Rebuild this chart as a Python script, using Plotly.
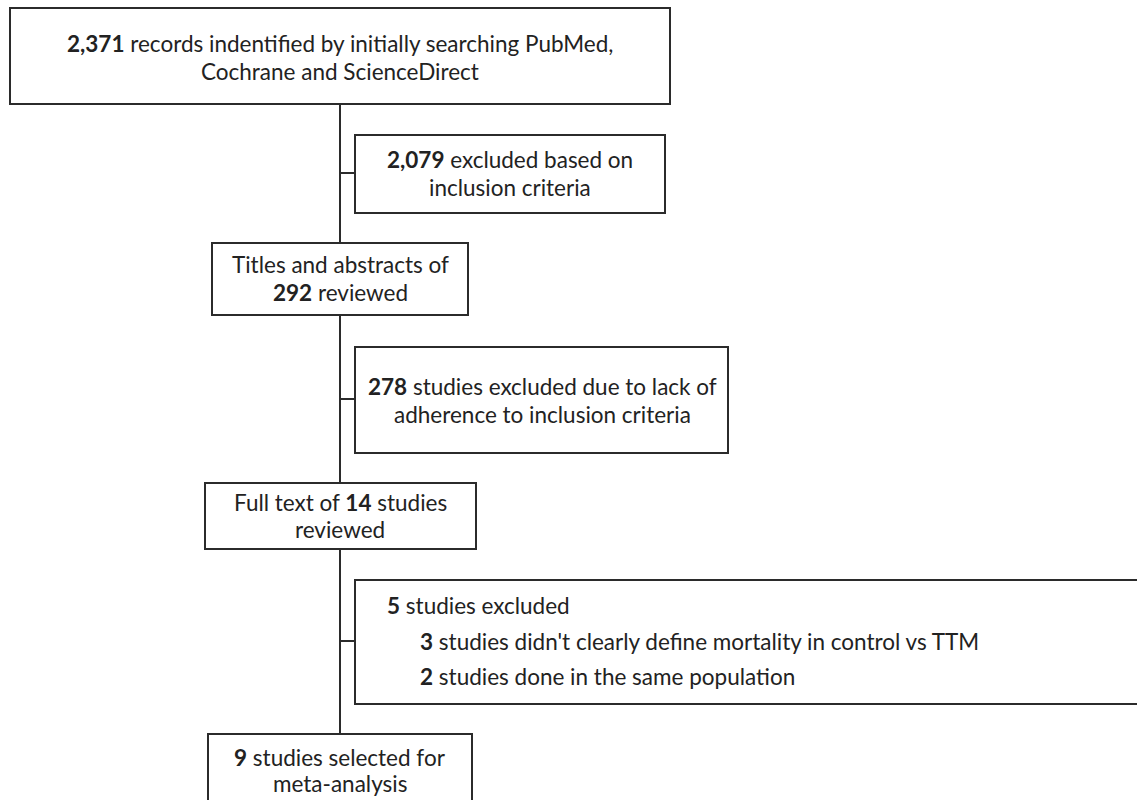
import plotly.graph_objects as go

# Flow counts
counts = {
    "identified": 2371,
    "excluded_criteria": 2079,
    "screened": 292,
    "excluded_adherence": 278,
    "full_text": 14,
    "excluded_full": 5,
    "excl_mortality": 3,
    "excl_population": 2,
    "selected": 9,
}

def b(n):
    return f"<b>{n:,}</b>"

# boxes: (x0, y0, x1, y1)
boxes = [
    (10, 8, 670, 104),
    (355, 135, 665, 213),
    (212, 243, 468, 315),
    (355, 347, 728, 453),
    (205, 483, 476, 549),
    (355, 580, 1150, 704),
    (208, 734, 472, 820),
]

# text lines: (x, y, text, anchor)
lines_text = [
    (340, 43, f"{b(counts['identified'])} records indentified by initially searching PubMed,", "center"),
    (340, 71, "Cochrane and ScienceDirect", "center"),
    (510, 159, f"{b(counts['excluded_criteria'])} excluded based on", "center"),
    (510, 187, "inclusion criteria", "center"),
    (340, 264, "Titles and abstracts of", "center"),
    (340, 292, f"{b(counts['screened'])} reviewed", "center"),
    (542, 386, f"{b(counts['excluded_adherence'])} studies excluded due to lack of", "center"),
    (542, 414, "adherence to inclusion criteria", "center"),
    (340, 502, f"Full text of {b(counts['full_text'])} studies", "center"),
    (340, 529, "reviewed", "center"),
    (385, 605, f"{b(counts['excluded_full'])} studies excluded", "left"),
    (418, 641, f"{b(counts['excl_mortality'])} studies didn't clearly define mortality in control vs TTM", "left"),
    (418, 676, f"{b(counts['excl_population'])} studies done in the same population", "left"),
    (340, 757, f"{b(counts['selected'])} studies selected for", "center"),
    (340, 783, "meta-analysis", "center"),
]

fig = go.Figure()
fig.add_trace(go.Scatter(x=[0, 1137], y=[0, 800], mode="markers",
                         marker=dict(opacity=0), hoverinfo="skip", showlegend=False))

lc = "#2b2b2b"
for (x0, y0, x1, y1) in boxes:
    fig.add_shape(type="rect", x0=x0, y0=y0, x1=x1, y1=y1,
                  line=dict(color=lc, width=2), fillcolor="white", layer="below")

spine_x = 340
segs = [(104, 243), (315, 483), (549, 734)]
for (ya, yb) in segs:
    fig.add_shape(type="line", x0=spine_x, x1=spine_x, y0=ya, y1=yb, line=dict(color=lc, width=2))
for yc, xe in [(173, 355), (399, 355), (641, 355)]:
    fig.add_shape(type="line", x0=spine_x, x1=xe, y0=yc, y1=yc, line=dict(color=lc, width=2))

for (x, y, t, anc) in lines_text:
    fig.add_annotation(x=x, y=y, text=t, showarrow=False, xanchor=anc, yanchor="middle",
                       font=dict(family="Lato", size=22.5, color="#222222"))

fig.update_xaxes(range=[0, 1137], visible=False, fixedrange=True)
fig.update_yaxes(range=[800, 0], visible=False, fixedrange=True)
fig.update_layout(width=1137, height=800, margin=dict(l=0, r=0, t=0, b=0),
                  plot_bgcolor="white", paper_bgcolor="white", showlegend=False)
fig.write_html("out.html", config={"displayModeBar": False},
               post_script="document.body.style.margin='0';document.body.style.overflow='hidden';")
